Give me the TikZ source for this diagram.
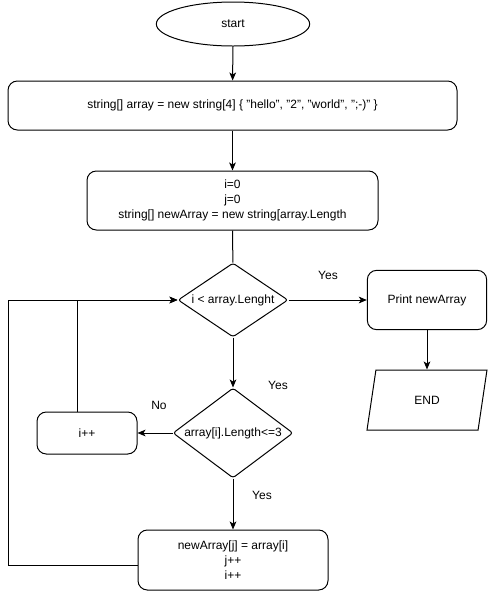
\documentclass[tikz,border=0pt]{standalone}
\usepackage{fontspec}
\setmainfont{Liberation Sans}
\usetikzlibrary{shapes.geometric,arrows.meta}
\tikzstyle{term} = [draw, ellipse, minimum width=115pt, minimum height=33pt, inner sep=0pt]
\tikzstyle{box} = [draw, rounded corners=7pt, align=center, inner sep=0pt]
\tikzstyle{cond} = [draw, diamond, rounded corners=2pt, inner sep=0pt]
\tikzstyle{io} = [draw, trapezium, trapezium left angle=75, trapezium right angle=105, trapezium stretches=true, inner sep=0pt, minimum width=90pt, minimum height=45pt]
\tikzstyle{lbl} = []

\begin{document}
\begin{tikzpicture}[x=0.75pt, y=-0.75pt, line width=0.75pt, >={Stealth[length=6pt, width=5pt, inset=1.5pt]}, font=\fontsize{9}{11.25}\selectfont]
  \useasboundingbox (0,0) rectangle (488,601);
  \node (start) at (233,24) [term] {start};
  \node (init) at (232.5,105.5) [box, minimum width=336.75pt, minimum height=36.75pt] {string[] array = new string[4] \{ "hello", "2", "world", ";-)" \}};
  \node (vars) at (232.5,200.5) [box, minimum width=218.25pt, minimum height=44.25pt] {i=0\\j=0\\string[] newArray = new string[array.Length};
  \node (chk) at (233,300) [cond, minimum width=82.5pt, minimum height=55.5pt, label=center:{i < array.Lenght}] {};
  \node (print) at (427,300) [box, minimum width=89.5pt, minimum height=44.5pt] {Print newArray};
  \node (end) at (427,400) [io] {END};
  \node (len) at (233,433) [cond, minimum width=90pt, minimum height=67.5pt, label=center:{array[i].Length<=3}] {};
  \node (inc) at (87,433) [box, minimum width=75pt, minimum height=31.5pt] {i++};
  \node (copy) at (233,560) [box, minimum width=142.5pt, minimum height=45pt] {newArray[j] = array[i]\\j++\\i++};
  \coordinate (loop) at (8,300);
  \node (yes1) at (328,275) [lbl] {Yes};
  \node (yes2) at (278,385) [lbl] {Yes};
  \node (no) at (159,405) [lbl] {No};
  \node (yes3) at (262,495) [lbl] {Yes};
  \draw [->] (start) -- (init);
  \draw [->] (init) -- (vars);
  \draw (vars) -- (chk);
  \draw [->] (chk) -- (print);
  \draw [->] (print) -- (end);
  \draw [->] (chk) -- (len);
  \draw [->] (len) -- (inc);
  \draw [->] (len) -- (copy);
  \draw [->] ([xshift=-7.5pt]inc.north) |- (chk.west);
  \draw [->] ([yshift=-3.75pt]copy.west) -| (loop) -- (chk.west);
\end{tikzpicture}
\end{document}
